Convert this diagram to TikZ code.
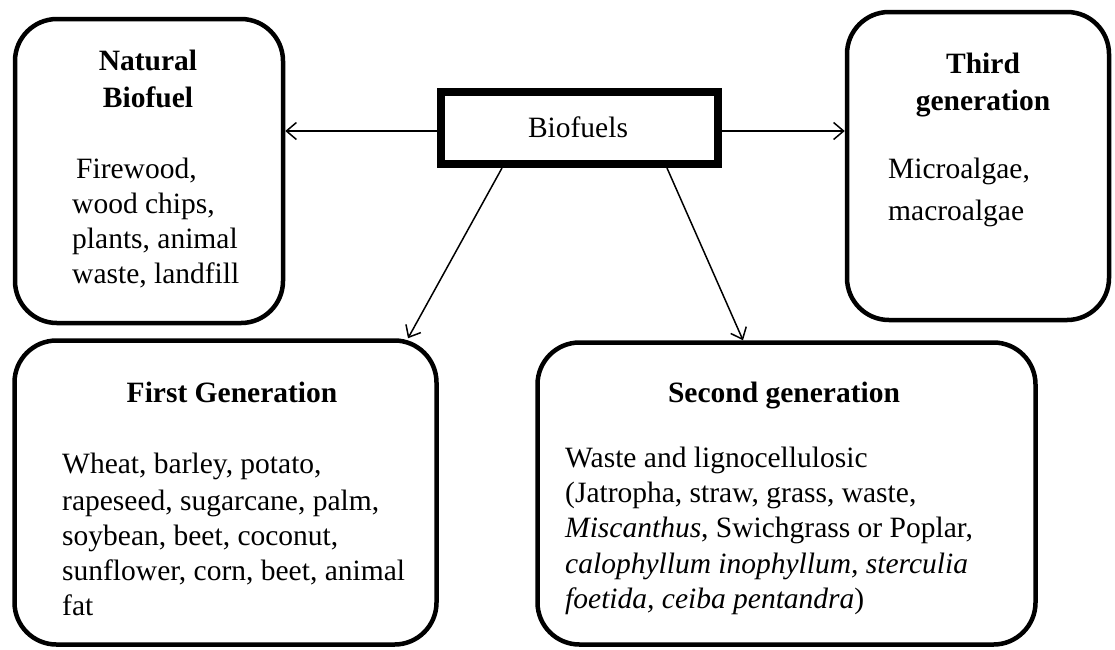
\documentclass[tikz,border=0pt]{standalone}
\usepackage{fontspec}
\setmainfont{Liberation Serif}
\usetikzlibrary{arrows.meta}
\begin{document}
\begin{tikzpicture}[x=1pt,y=-1pt,
  box/.style={draw, line width=4.5pt, rounded corners=42pt, inner sep=0pt},
  mainbox/.style={draw, line width=8pt, inner sep=0pt},
  arr/.style={-{Straight Barb[length=10pt,width=17pt]}, line width=1.5pt},
  ttl/.style={font=\fontsize{29.5}{35}\selectfont\bfseries, inner sep=0pt, anchor=base},
  txt/.style={font=\fontsize{29.5}{35}\selectfont, inner sep=0pt, anchor=base west},
  ctr/.style={font=\fontsize{29.5}{35}\selectfont, inner sep=0pt, anchor=base},
]
\useasboundingbox (0,0) rectangle (1115,649);

% boxes
\node[mainbox, minimum width=277pt, minimum height=72pt] (bio) at (579.5,128) {};
\node[box, minimum width=268pt, minimum height=304pt] (nat) at (149,171) {};
\node[box, minimum width=262pt, minimum height=308pt] (third) at (978,166) {};
\node[box, minimum width=422pt, minimum height=304pt] (fg) at (225.5,492.5) {};
\node[box, minimum width=498pt, minimum height=302pt] (sg) at (786.5,493.5) {};

% texts
\node[ctr] (biot) at (578,137) {Biofuels};

\node[ttl] (natt1) at (148,70) {Natural};
\node[ttl] (natt2) at (148,107) {Biofuel};
\node[txt] (natb1) at (76,178) {Firewood,};
\node[txt] (natb2) at (72,213) {wood chips,};
\node[txt] (natb3) at (72,248) {plants, animal};
\node[txt] (natb4) at (72,283) {waste, landfill};

\node[ttl] (thit1) at (983,73) {Third};
\node[ttl] (thit2) at (983,110) {generation};
\node[txt] (thib1) at (888,178) {Microalgae,};
\node[txt] (thib2) at (888,220) {macroalgae};

\node[ttl] (fgt) at (232,402) {First Generation};
\node[txt] (fgb1) at (62,473) {Wheat, barley, potato,};
\node[txt] (fgb2) at (62,510) {rapeseed, sugarcane, palm,};
\node[txt] (fgb3) at (62,545) {soybean, beet, coconut,};
\node[txt] (fgb4) at (62,580) {sunflower, corn, beet, animal};
\node[txt] (fgb5) at (62,615) {fat};

\node[ttl] (sgt) at (784,402) {Second generation};
\node[txt] (sgb1) at (565,467) {Waste and lignocellulosic};
\node[txt] (sgb2) at (565,502) {(Jatropha, straw, grass, waste,};
\node[txt] (sgb3) at (565,537) {\textit{Miscanthus}, Swichgrass or Poplar,};
\node[txt] (sgb4) at (565,573) {\textit{calophyllum inophyllum, sterculia}};
\node[txt] (sgb5) at (565,608) {\textit{foetida, ceiba pentandra})};

% connectors
\coordinate (bl) at ([yshift=-3pt]bio.west);
\coordinate (br) at ([yshift=-3pt]bio.east);
\draw[arr] (bl) -- (bl -| nat.east);
\draw[arr] (br) -- (br -| third.west);
\draw[arr] ([xshift=-77.5pt]bio.south) -- ([xshift=182.5pt]fg.north);
\draw[arr] ([xshift=87.5pt]bio.south) -- ([xshift=-43.5pt]sg.north);
\end{tikzpicture}
\end{document}
